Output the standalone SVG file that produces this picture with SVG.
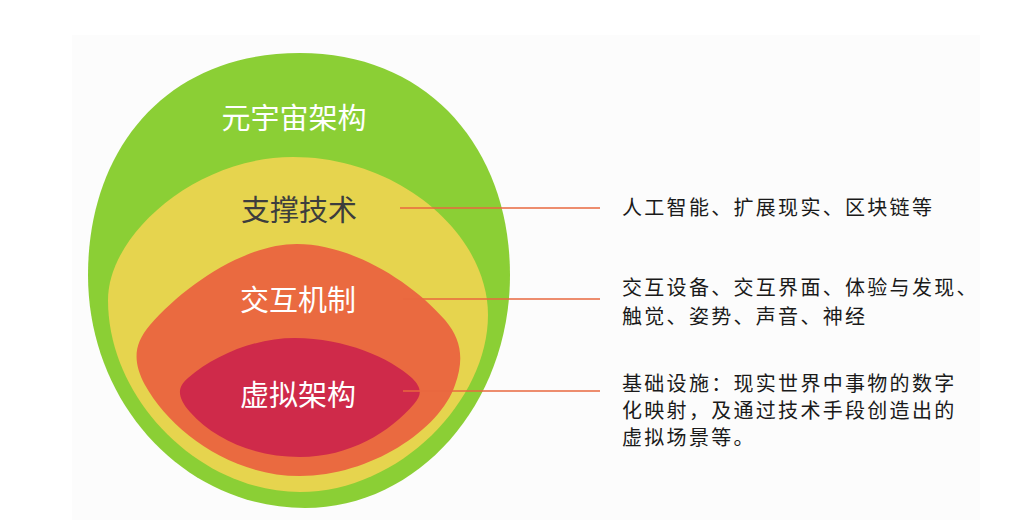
<svg xmlns="http://www.w3.org/2000/svg" width="1022" height="530" viewBox="0 0 1022 530">
<style>
.lbl{font-family:"Noto Sans CJK SC","Noto Sans",sans-serif;font-size:29px;text-anchor:middle}
.desc{font-family:"Noto Sans CJK SC","Noto Sans",sans-serif;font-size:20px;letter-spacing:2.3px;fill:#1a1a1a}
.conn{stroke:#e8683f;stroke-width:1.6;fill:none}
</style>
<rect width="1022" height="530" fill="#ffffff"/>
<rect x="72" y="35" width="908" height="485" fill="#fcfcfc"/>
<g id="layer-metaverse">
<path d="M 300 53 C 430 53, 510 150, 510 275 C 510 404, 418 508, 305 508 C 185 508, 88 404, 88 275 C 88 150, 165 53, 300 53 Z" fill="#8bcf35"/>
<text class="lbl" x="294" y="129" fill="#ffffff">元宇宙架构</text>
</g>
<g id="layer-support">
<path d="M 293 157 C 400 157, 488 235, 488 315 C 488 400, 400 492, 300 492 C 200 492, 108 400, 108 300 C 108 235, 195 157, 293 157 Z" fill="#e6d44e"/>
<text class="lbl" x="299" y="221" fill="#3d3d3d">支撑技术</text>
</g>
<g id="layer-interaction">
<path d="M 297 244 C 350 244, 410 280, 445 320 C 462 340, 464 360, 455 385 C 440 430, 370 476, 300 476 C 230 476, 170 430, 145 385 C 133 362, 133 345, 150 325 C 185 285, 245 244, 297 244 Z" fill="#ea6a40"/>
<text class="lbl" x="298" y="311" fill="#ffffff">交互机制</text>
</g>
<g id="layer-virtual">
<path d="M 295 338 C 345 338, 390 358, 412 378 C 422 388, 422 395, 414 404 C 390 432, 350 457, 300 457 C 255 457, 215 440, 190 412 C 178 398, 176 388, 188 378 C 215 355, 255 338, 295 338 Z" fill="#cf2a4a"/>
<text class="lbl" x="298" y="406" fill="#ffffff">虚拟架构</text>
</g>
<g id="connectors">
<line class="conn" x1="400" y1="208" x2="600" y2="208"/>
<line class="conn" x1="403" y1="299" x2="600" y2="299"/>
<line class="conn" x1="403" y1="391" x2="600" y2="391"/>
</g>
<g id="desc-support">
<text class="desc" x="622" y="215">人工智能、扩展现实、区块链等</text>
</g>
<g id="desc-interaction">
<text class="desc" x="622" y="295">交互设备、交互界面、体验与发现、</text>
<text class="desc" x="622" y="324">触觉、姿势、声音、神经</text>
</g>
<g id="desc-virtual">
<text class="desc" x="622" y="391">基础设施：现实世界中事物的数字</text>
<text class="desc" x="622" y="418">化映射，及通过技术手段创造出的</text>
<text class="desc" x="622" y="445">虚拟场景等。</text>
</g>
</svg>
